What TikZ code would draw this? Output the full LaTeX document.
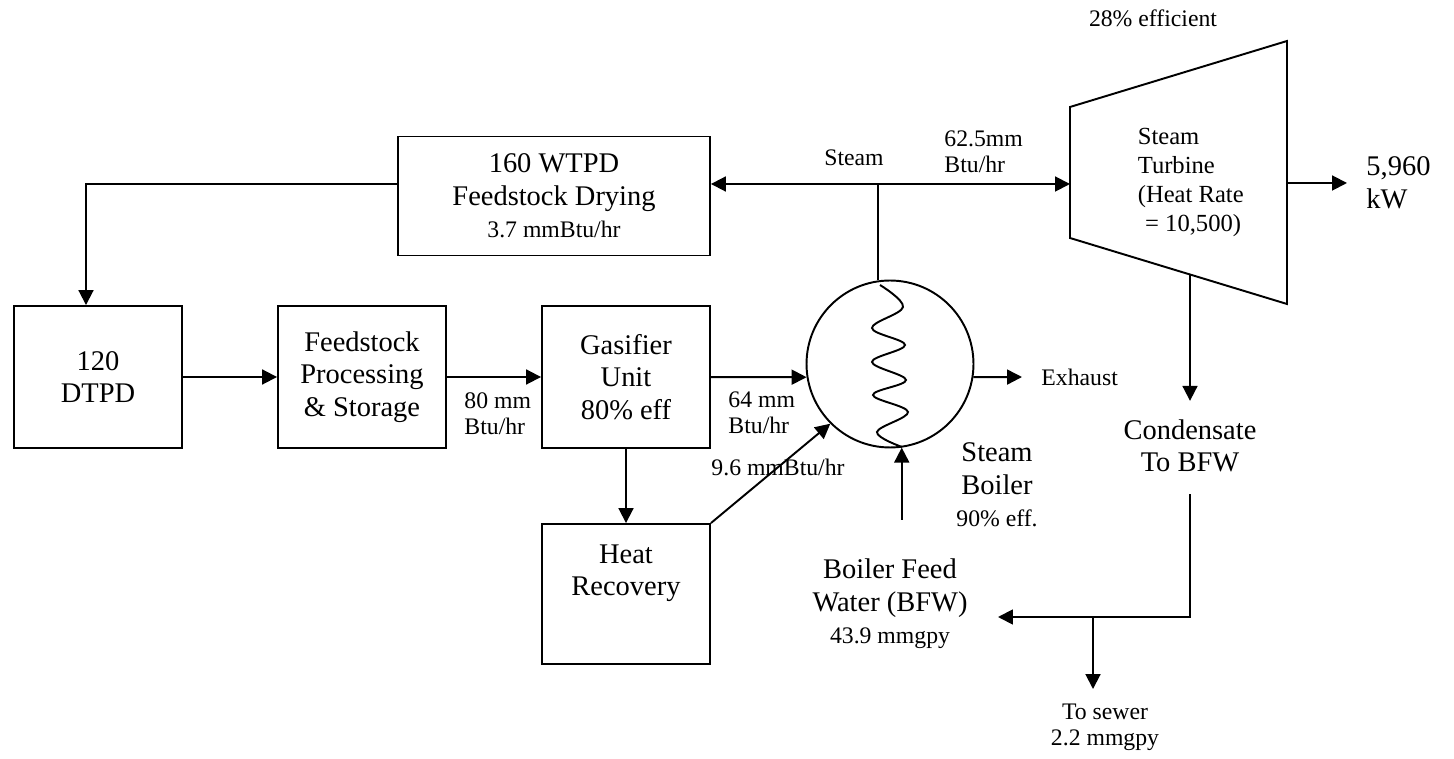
\documentclass[tikz,border=0pt]{standalone}
\usepackage{fontspec}
\setmainfont{Liberation Serif}
\usetikzlibrary{calc,arrows.meta,positioning}
\newcommand{\smallsize}{\fontsize{13.5}{15}\selectfont}
\newcommand{\midsize}{\fontsize{14}{16.5}\selectfont}

\begin{document}
\begin{tikzpicture}[x=0.02cm, y=-0.02cm, line width=1.1pt,
  font=\fontsize{16.2}{18.5}\selectfont,
  unit/.style={draw, minimum width=3.36cm, minimum height=2.84cm, align=center, inner sep=2pt},
  flow/.style={-{Triangle[length=8.5pt,width=8.5pt]}},
  note/.style={font=\smallsize, align=left, inner sep=2pt}]

 \useasboundingbox (0,0) rectangle (1454,759);

 \node (drying) [unit, minimum width=6.24cm, minimum height=2.38cm] at (554,196) {160 WTPD\\Feedstock Drying\\{\smallsize 3.7 mmBtu/hr}};
 \node (dtpd) [unit] at (98,377) {120\\DTPD};
 \node (feed) [unit] at (362,377) {Feedstock\\Processing\\\& Storage};
 \node (gasifier) [unit] at (626,377) {Gasifier\\Unit\\80\% eff};
 \node (heat) [unit, minimum height=2.8cm] at (626,594) {Heat\\Recovery\\[0.31cm]\mbox{}};
 \node (boiler) [draw, circle, minimum size=3.34cm, inner sep=0pt] at (890,364) {};

 % coil inside the boiler
 \draw plot[smooth, tension=0.6] coordinates {(880,285) (903,307) (872,328) (905,345) (872,362) (906,380) (873,395) (908,412) (877,432) (902,447)};

 % turbine
 \coordinate (t1) at (1070,107);
 \coordinate (t2) at (1287,41);
 \coordinate (t3) at (1287,304);
 \coordinate (t4) at (1070,238);
 \draw (t1) -- (t2) -- (t3) -- (t4) -- cycle;
 \node (turbine) [font=\midsize, align=left, anchor=west] at (1131,182) {Steam\\Turbine\\(Heat Rate\\\hspace*{0.3em}= 10,500)};
 \node (eff) [note] at (1153,18) {28\% efficient};
 \node (power) [anchor=west, align=left, inner sep=2pt] at (1362,183) {5,960\\kW};
 \draw[flow] (power.west -| t2) -- ([xshift=-0.3cm]power.west);

 % steam header
 \coordinate (split) at (boiler.98 |- 0,184);
 \draw[flow] (split) -- (split -| drying.east);
 \draw[flow] (split) -- (split -| t1);
 \draw (split) -- (boiler.98);
 \node (steam) [note] at (854,158) {Steam};
 \node (steamrate) [note, anchor=west] at (940,152) {62.5mm\\Btu/hr};

 \coordinate (dryturn) at (86,184);
 \draw[flow] (split -| drying.west) -- (dryturn) -- (dryturn |- dtpd.north);

 \draw[flow] (dtpd) -- (feed);
 \draw[flow] (feed) -- (gasifier);
 \draw[flow] (gasifier) -- (boiler.189);
 \draw[flow] (gasifier) -- (heat);
 \draw[flow] (heat.north east) -- (boiler.225);
 \node (fuel) [note, anchor=west] at (460,414) {80 mm\\Btu/hr};
 \node (gas) [note, anchor=west] at (724,413) {64 mm\\Btu/hr};
 \node (recovered) [note] at (778,467) {9.6 mmBtu/hr};

 \node (exhaust) [note, anchor=west] at (1037,377) {Exhaust};
 \draw[flow] (boiler.-9) -- ([xshift=-0.3cm]exhaust.west);
 \node (boilerlbl) [align=center] at (997,485) {Steam\\Boiler\\{\smallsize 90\% eff.}};

 % water side
 \node (bfw) [align=center] at (890,604) {Boiler Feed\\Water (BFW)\\{\smallsize 43.9 mmgpy}};
 \coordinate (bfwup) at (boiler.-82 |- 0,520);
 \draw[flow] (bfwup) -- (boiler.-82);

 \coordinate (tout) at ($(t4)!0.553!(t3)$);
 \node (condensate) [align=center] at (1190,446) {Condensate\\To BFW};
 \draw[flow] (tout) -- ([yshift=0.24cm]tout |- condensate.north);
 \coordinate (bfwtip) at (998,617);
 \coordinate (sewersplit) at (1093,617);
 \draw[flow] ([yshift=-0.3cm]condensate.south) |- (bfwtip);
 \node (sewer) [note, align=center] at (1105,727) {To sewer\\2.2 mmgpy};
 \draw[flow] (sewersplit) -- ([yshift=0.2cm]sewersplit |- sewer.north);

\end{tikzpicture}
\end{document}
